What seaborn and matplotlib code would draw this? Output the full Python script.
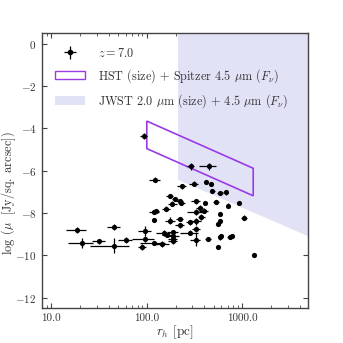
import numpy as np
import matplotlib
matplotlib.use('Agg')
import matplotlib.pyplot as plt
import matplotlib.ticker as mticker
from matplotlib.patches import Patch
import seaborn as sns

# half-light radius [pc], log surface brightness, and their errors
rh = [93, 288, 444, 121, 232, 310, 420, 473, 485, 585, 670, 173, 185, 197, 221, 230,
      324, 357, 394, 410, 535, 713, 920, 160, 120, 124, 119, 176, 221, 330, 372, 324,
      583, 583, 1040, 221, 281, 150, 164, 188, 188, 190, 188, 144, 281, 324, 437, 552,
      603, 580, 736, 785, 1324, 18.7, 21.1, 31.5, 45.3, 45.3, 60, 89, 95, 95, 120,
      330, 552]
logmu = [-4.37, -5.79, -5.79, -6.43, -6.73, -6.60, -6.53, -6.64, -6.95, -7.06, -7.02,
         -7.20, -7.56, -7.33, -7.44, -7.52, -7.44, -7.75, -7.88, -7.53, -7.47, -7.64,
         -7.52, -7.80, -7.95, -7.90, -8.31, -8.35, -8.26, -8.39, -8.18, -7.94, -8.04,
         -8.39, -8.21, -8.58, -8.43, -8.94, -9.03, -8.91, -9.22, -9.07, -9.34, -9.46,
         -8.92, -9.26, -9.22, -9.60, -9.07, -9.15, -9.13, -9.07, -9.98, -8.80, -9.41,
         -9.34, -8.66, -9.54, -9.26, -9.60, -8.84, -9.22, -9.40, -8.75, -8.50]
rh_err = [8, 25, 90, 15, 25, 35, 20, 20, 30, 40, 40, 15, 20, 15, 20, 20, 35, 30, 40, 20,
          40, 20, 30, 15, 15, 10, 5, 20, 20, 40, 30, 60, 30, 30, 80, 25, 25, 25, 20, 25,
          20, 25, 20, 25, 60, 40, 30, 10, 30, 25, 40, 40, 10, 4.5, 6, 5, 7, 20, 10, 8,
          15, 25, 35, 30, 25]
mu_err = [0.15, 0.15, 0.15, 0.12, 0.12, 0.12, 0.1, 0.1, 0.1, 0.1, 0.1, 0.1, 0.12, 0.1,
          0.12, 0.1, 0.12, 0.12, 0.1, 0.1, 0.1, 0.1, 0.1, 0.12, 0.1, 0.1, 0.05, 0.15,
          0.1, 0.15, 0.15, 0.15, 0.1, 0.1, 0.1, 0.1, 0.12, 0.12, 0.1, 0.12, 0.1, 0.1,
          0.1, 0.12, 0.1, 0.3, 0.1, 0.05, 0.1, 0.1, 0.1, 0.1, 0.05, 0.15, 0.25, 0.12,
          0.15, 0.35, 0.15, 0.12, 0.25, 0.15, 0.1, 0.12, 0.1]

# HST (size) + Spitzer 4.5um detection box
hst_x = [100, 1300, 1300, 100]
hst_y = [-3.65, -5.88, -7.18, -4.95]

# JWST detectable region (lower boundary)
jwst_x = [210, 5000]
jwst_lower = [-6.4, -9.1]
jwst_top = 1.0

sns.set_style('ticks')
plt.rcParams['font.family'] = 'serif'
plt.rcParams['font.serif'] = ['cmr10', 'DejaVu Serif']
plt.rcParams['mathtext.fontset'] = 'cm'
plt.rcParams['axes.formatter.use_mathtext'] = True
plt.rcParams['font.size'] = 8

fig = plt.figure(figsize=(3.43, 3.43), dpi=100)
ax = fig.add_axes([0.1224, 0.101, 0.7755, 0.802])

ax.fill_between(jwst_x, jwst_lower, jwst_top, color='#e2e2f7', lw=0, zorder=1)
ax.fill(hst_x, hst_y, facecolor='none', edgecolor='#9a3ae6', lw=1.2, zorder=2)

ax.errorbar(rh, logmu, xerr=rh_err, yerr=mu_err, fmt='none', ecolor='black',
            elinewidth=0.9, capsize=0, zorder=3)
sns.scatterplot(x=rh, y=logmu, color='black', s=14, edgecolor='black', linewidth=0,
                ax=ax, zorder=4, legend=False)

ax.set_xscale('log')
ax.set_xlim(8, 4865)
ax.set_ylim(-12.5, 0.5)
ax.set_yticks([0, -2, -4, -6, -8, -10, -12])
ax.xaxis.set_major_locator(mticker.FixedLocator([10, 100, 1000]))
ax.xaxis.set_major_formatter(mticker.FuncFormatter(lambda v, p: f'{v:.1f}'))
ax.tick_params(which='both', direction='in', top=True, right=True, labelsize=8,
               colors='#444444', labelcolor='#333333')
ax.tick_params(which='major', length=3.5, width=0.8)
ax.tick_params(axis='y', pad=4)
ax.tick_params(axis='x', pad=4)
ax.tick_params(which='minor', length=2, width=0.6)
for s in ax.spines.values():
    s.set_color('#444444')
    s.set_linewidth(1.0)

ax.set_xlabel(r'$r_h$ [pc]', fontsize=9.5, color='#333333', labelpad=0)
ax.set_ylabel(r'$\log\ (\mu\ \ [\mathrm{Jy/sq.\ arcsec}])$', fontsize=8.8,
              color='#333333')
ax.yaxis.set_label_coords(-0.09, 0.42)

h1 = ax.errorbar([], [], xerr=[], yerr=[], fmt='o', color='black', ms=3,
                 elinewidth=0.9, capsize=0)
h2 = Patch(facecolor='none', edgecolor='#9a3ae6', lw=1.0)
h3 = Patch(facecolor='#e2e2f7', edgecolor='none')
ax.legend([h1, h2, h3],
          [r'$z = 7.0$', r'HST (size) + Spitzer 4.5 $\mu$m ($F_\nu$)',
           r'JWST 2.0 $\mu$m (size) + 4.5 $\mu$m ($F_\nu$)'],
          loc='upper left', frameon=False, fontsize=8.8, handlelength=2.4,
          labelspacing=0.6, borderaxespad=0.7, handletextpad=1.1,
          labelcolor='#333333')

fig.savefig('out.png', dpi=100)
